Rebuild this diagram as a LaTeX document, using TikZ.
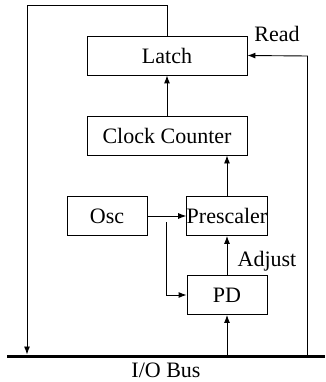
\documentclass[tikz,border=0pt]{standalone}
\usepackage{fontspec}
\setmainfont{Liberation Serif}
\usetikzlibrary{arrows.meta,positioning}

\begin{document}
\begin{tikzpicture}[x=1pt,y=-1pt,
  >={Latex[length=8pt,width=6pt]},
  every node/.style={font=\fontsize{22}{26}\selectfont},
  block/.style={draw,rectangle,line width=0.9pt,inner sep=0pt,minimum height=39pt},
  wire/.style={line width=0.9pt}]
  \useasboundingbox (0,0) rectangle (325,382);

  % Blocks
  \foreach \n/\x/\y/\w/\t in {latch/167/55.5/160/Latch, counter/167/135.5/160/{Clock Counter},
      osc/107/216/80/Osc, pre/227/216/80/Prescaler, pd/227/295/80/PD} {
    \node[block,minimum width=\w pt] (\n) at (\x,\y) {\t};
  }

  % I/O bus
  \coordinate (busL) at (7,356);
  \coordinate (busR) at (325,356);
  \draw[line width=3pt] (busL) -- (busR);
  \node (buslabel) at (166,370) {I/O Bus};

  % Latch back to the bus
  \coordinate (loopR) at (167,5);
  \coordinate (loopL) at (27,5);
  \coordinate (busA) at (27,354.5);
  \draw[wire,->] (latch.north) -- (loopR) -- (loopL) -- (busA);

  % Read line
  \coordinate (busB) at (307.5,356);
  \coordinate (readC) at (307.5,56);
  \draw[wire,->] (busB) -- (readC) -- (latch.east);
  \node (read) at (277,34) {Read};

  % Data path
  \draw[wire,->] (counter.north) -- (latch.south);
  \draw[wire,->] (pre.north) -- (pre.north |- counter.south);
  \draw[wire,->] (osc.east) -- (pre.west);
  \coordinate (oscT) at (166,222);
  \draw[wire,->] (oscT) -- (oscT |- pd.west) -- (pd.west);
  \draw[wire,->] (pd.north) -- (pre.south);
  \node (adjust) at (267,261) {Adjust};
  \coordinate (busC) at (227,354.5);
  \draw[wire,->] (busC) -- (pd.south);
\end{tikzpicture}
\end{document}
